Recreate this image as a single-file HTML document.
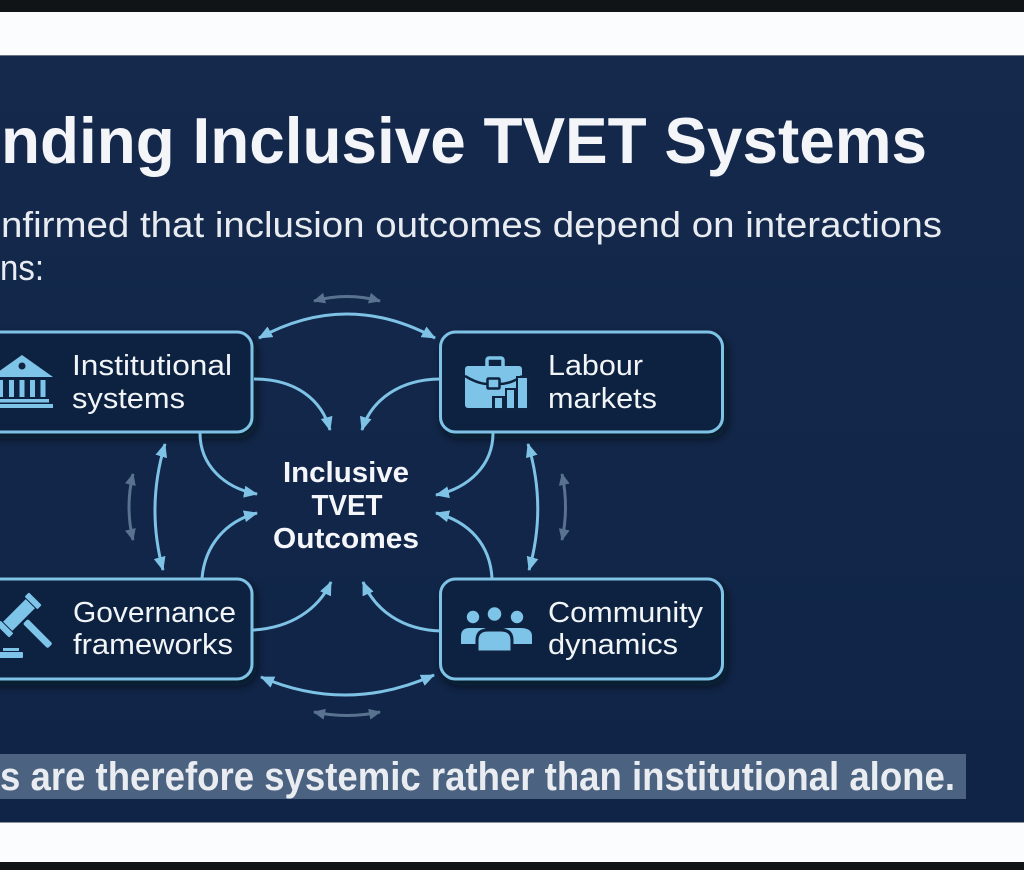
<!DOCTYPE html>
<html><head><meta charset="utf-8"><style>
html,body{margin:0;padding:0;background:#111417;}
svg{display:block;}
text{font-family:"Liberation Sans",sans-serif;}
</style></head><body>
<svg width="1024" height="870" viewBox="0 0 1024 870" xmlns="http://www.w3.org/2000/svg">
<defs>
<linearGradient id="bg" x1="0" y1="0" x2="0" y2="1">
<stop offset="0" stop-color="#14294c"/><stop offset="1" stop-color="#0f2447"/>
</linearGradient>
<marker id="ah" viewBox="0 0 14 12" refX="13" refY="6" markerWidth="14" markerHeight="12" markerUnits="userSpaceOnUse" orient="auto-start-reverse">
<path d="M0,0 L14,6 L0,12 z" fill="#7ec2e6"/>
</marker>
<marker id="af" viewBox="0 0 12 11" refX="11" refY="5.5" markerWidth="12" markerHeight="11" markerUnits="userSpaceOnUse" orient="auto-start-reverse">
<path d="M0,0 L12,5.5 L0,11 z" fill="#58728f"/>
</marker>
<filter id="sh" x="-20%" y="-20%" width="140%" height="150%">
<feDropShadow dx="3" dy="5" stdDeviation="5" flood-color="#040b18" flood-opacity="0.65"/>
</filter>
</defs>
<rect x="0" y="0" width="1024" height="870" fill="#111417"/>
<rect x="0" y="12" width="1024" height="43" fill="#fbfcfd"/>
<rect x="0" y="55" width="1024" height="767" fill="url(#bg)"/>
<rect x="0" y="55" width="1024" height="1" fill="#6b7482"/>
<rect x="0" y="822" width="1024" height="40" fill="#fbfcfd"/>
<rect x="0" y="822" width="1024" height="1" fill="#8a909a"/>

<!-- Title -->
<text x="1" y="163" font-size="65" font-weight="bold" fill="#f3f5f8" textLength="926" lengthAdjust="spacingAndGlyphs">nding Inclusive TVET Systems</text>
<text x="1" y="237" font-size="36" fill="#e8ecf1" textLength="941" lengthAdjust="spacingAndGlyphs">nfirmed that inclusion outcomes depend on interactions</text>
<text x="0" y="280" font-size="36" fill="#e8ecf1" textLength="44" lengthAdjust="spacingAndGlyphs">ns:</text>

<!-- faded arrows -->
<g fill="none" stroke="#58728f" stroke-width="3">
<path d="M314 301 Q347 292 380 301" marker-start="url(#af)" marker-end="url(#af)"/>
<path d="M314 712 Q347 719 380 712" marker-start="url(#af)" marker-end="url(#af)"/>
<path d="M133 474 Q125 507 133 540" marker-start="url(#af)" marker-end="url(#af)"/>
<path d="M562 474 Q569 507 562 540" marker-start="url(#af)" marker-end="url(#af)"/>
</g>

<!-- boxes -->
<g filter="url(#sh)" fill="#0f2240" stroke="#7ec2e6" stroke-width="3">
<rect x="-30" y="332" width="282" height="100" rx="15"/>
<rect x="440.5" y="332" width="282" height="100" rx="15"/>
<rect x="-30" y="579" width="282" height="100" rx="15"/>
<rect x="440.5" y="579" width="282" height="100" rx="15"/>
</g>

<!-- main arrows -->
<g fill="none" stroke="#7ec2e6" stroke-width="3">
<path d="M259 338 Q347 290 435 338" marker-start="url(#ah)" marker-end="url(#ah)"/>
<path d="M261 677 Q347 714 434 675" marker-start="url(#ah)" marker-end="url(#ah)"/>
<path d="M165 444 Q146 507 163 570" marker-start="url(#ah)" marker-end="url(#ah)"/>
<path d="M528 444 Q547 507 529 570" marker-start="url(#ah)" marker-end="url(#ah)"/>
<path d="M254 379 C296 379 322 400 330 430" marker-end="url(#ah)"/>
<path d="M441 379 C400 379 371 400 362 430" marker-end="url(#ah)"/>
<path d="M200 433 C200 465 224 488 257 494" marker-end="url(#ah)"/>
<path d="M493 433 C493 465 469 488 436 495" marker-end="url(#ah)"/>
<path d="M202 578 C205 545 226 521 257 513" marker-end="url(#ah)"/>
<path d="M492 578 C490 545 470 522 436 513" marker-end="url(#ah)"/>
<path d="M253 630 C290 628 318 610 331 582" marker-end="url(#ah)"/>
<path d="M441 631 C402 630 375 610 363 582" marker-end="url(#ah)"/>
</g>

<!-- center text -->
<g font-weight="bold" font-size="29" fill="#f4f6f9" text-anchor="middle">
<text x="346" y="482" textLength="126" lengthAdjust="spacingAndGlyphs">Inclusive</text>
<text x="347" y="515" textLength="71" lengthAdjust="spacingAndGlyphs">TVET</text>
<text x="346" y="548" textLength="146" lengthAdjust="spacingAndGlyphs">Outcomes</text>
</g>

<!-- node labels -->
<g font-size="29" fill="#f2f5f8">
<text x="72" y="375" textLength="160" lengthAdjust="spacingAndGlyphs">Institutional</text>
<text x="72" y="408" textLength="113" lengthAdjust="spacingAndGlyphs">systems</text>
<text x="548" y="375" textLength="95" lengthAdjust="spacingAndGlyphs">Labour</text>
<text x="548" y="408" textLength="109" lengthAdjust="spacingAndGlyphs">markets</text>
<text x="73" y="622" textLength="163" lengthAdjust="spacingAndGlyphs">Governance</text>
<text x="73" y="654" textLength="160" lengthAdjust="spacingAndGlyphs">frameworks</text>
<text x="548" y="622" textLength="155" lengthAdjust="spacingAndGlyphs">Community</text>
<text x="548" y="654" textLength="130" lengthAdjust="spacingAndGlyphs">dynamics</text>
</g>

<!-- bank icon -->
<g fill="#7ec4e8">
<polygon points="-9,377 22,355 53,377"/>
<circle cx="22" cy="366" r="3.5" fill="#0f2240"/>
<rect x="-2" y="380" width="5" height="17"/>
<rect x="9" y="380" width="5" height="17"/>
<rect x="19.5" y="380" width="5" height="17"/>
<rect x="30" y="380" width="5" height="17"/>
<rect x="40.5" y="380" width="5" height="17"/>
<rect x="-5" y="399" width="54" height="3.5"/>
<rect x="-9" y="404" width="62" height="4"/>
</g>

<!-- gavel icon -->
<g fill="#7ec4e8">
<g transform="translate(19,615) rotate(45)">
<rect x="-6.5" y="-16" width="13" height="32"/>
<rect x="-9" y="-23" width="18" height="6" rx="1"/>
<rect x="-9" y="17" width="18" height="6" rx="1"/>
<rect x="9" y="-3.5" width="35" height="7" rx="2"/>
</g>
<rect x="3" y="648" width="16" height="3"/>
<rect x="-10" y="652" width="33" height="6" rx="1"/>
</g>

<!-- briefcase icon -->
<g>
<rect x="487" y="358" width="16" height="10" rx="2" fill="none" stroke="#7ec4e8" stroke-width="3.5"/>
<rect x="465" y="366" width="57" height="42" rx="3" fill="#7ec4e8"/>
<path d="M465 376 Q478 384 488 384 M499 384 Q511 384 522 376" fill="none" stroke="#0f2240" stroke-width="2.5"/>
<rect x="487.5" y="378.5" width="12" height="10" rx="1" fill="#7ec4e8" stroke="#0f2240" stroke-width="2.5"/>
<path d="M492 396 H505 V388 H516 V376 H530 V410 H492 Z" fill="#0f2240"/>
<rect x="495" y="398" width="7" height="10" fill="#7ec4e8"/>
<rect x="507" y="390" width="7" height="18" fill="#7ec4e8"/>
<rect x="518" y="378" width="9" height="30" fill="#7ec4e8"/>
</g>

<!-- people icon -->
<g fill="#7ec4e8">
<circle cx="473" cy="617" r="6.2"/>
<circle cx="517" cy="617" r="6.2"/>
<path d="M461 644 V636 Q461 628 470 628 H482 Q490 628 490 636 V644 Z"/>
<path d="M500 644 V636 Q500 628 508 628 H520 Q532 628 532 636 V644 Z"/>
<path d="M477 652 V640 Q477 630 488 630 H501 Q512 630 512 640 V652 Z" stroke="#0f2240" stroke-width="3"/>
<circle cx="494.5" cy="614" r="8" stroke="#0f2240" stroke-width="2.5"/>
</g>

<!-- bottom highlight -->
<rect x="0" y="754" width="966" height="45" fill="#4b6281"/>
<text x="0" y="790" font-size="40" font-weight="bold" fill="#e9edf1" textLength="955" lengthAdjust="spacingAndGlyphs">s are therefore systemic rather than institutional alone.</text>
</svg>
</body></html>
